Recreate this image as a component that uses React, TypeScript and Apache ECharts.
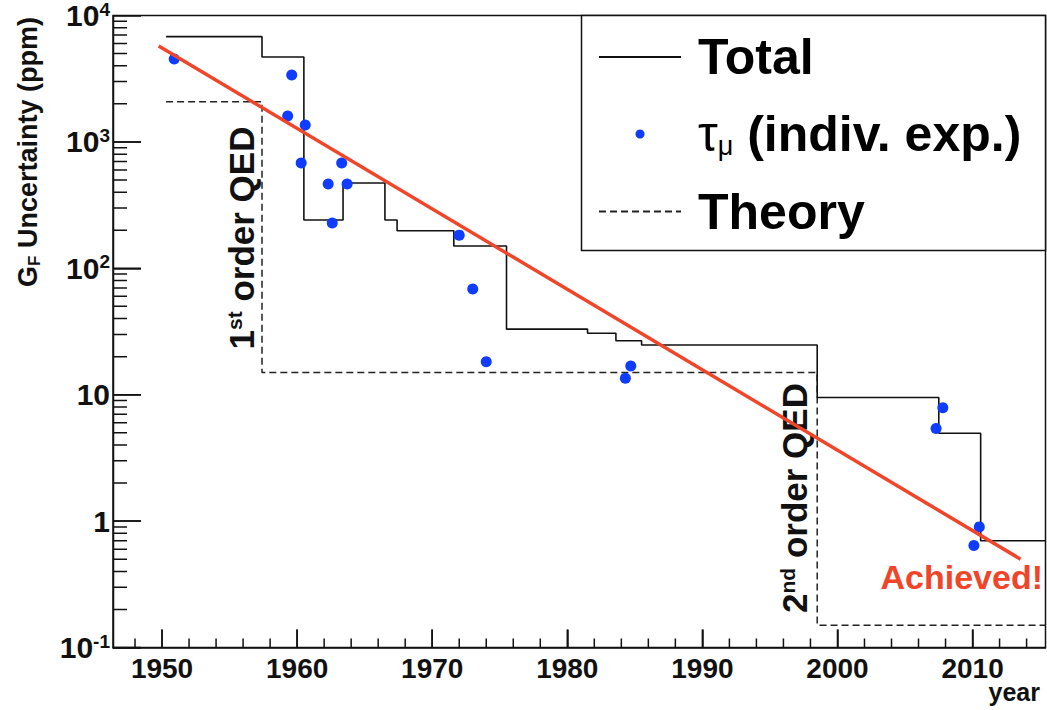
import React, { useEffect, useRef } from "react";
import * as echarts from "echarts";

// ---- data ----
const totalYears = [1950.3, 1957.4, 1960.5, 1963.4, 1966.5, 1967.4, 1971.6, 1975.5, 1981.5, 1983.6, 1985.5, 1998.5, 2007.5, 2010.6, 2015.4];
const totalValues = [6800, 4700, 241, 473, 241, 198, 150, 33, 30.6, 26.7, 24.7, 9.5, 4.95, 0.7, 0.7];

const theoryYears = [1950.3, 1957.4, 1998.5, 2015.4];
const theoryValues = [2080, 15, 0.15, 0.15];

const tauYears = [1950.9, 1959.6, 1959.3, 1960.6, 1960.3, 1963.3, 1962.3, 1963.7, 1962.6, 1972.0, 1973.0, 1974.0, 1984.7, 1984.3, 2007.8, 2007.3, 2010.5, 2010.1];
const tauValues = [4530, 3380, 1600, 1360, 681, 681, 464, 464, 228, 183, 68.6, 18.2, 16.9, 13.5, 7.9, 5.4, 0.9, 0.64];

const fitYears = [1949.75, 2013.55];
const fitValues = [5740, 0.5];

const X_MIN = 1946.37;
const X_MAX = 2015.4;
const Y_MIN = 0.1;
const Y_MAX = 10000;

// plot area (pixels)
const G_LEFT = 113;
const G_TOP = 15.5;
const G_RIGHT = 1.5;
const G_BOTTOM = 62.5;
const PX_PER_YEAR = (1047 - G_RIGHT - G_LEFT) / (X_MAX - X_MIN);
const PX_PER_DECADE = (710 - G_BOTTOM - G_TOP) / Math.log10(Y_MAX / Y_MIN);

const TAU_NAME = "τμ (indiv. exp.)";
const FONT = "'Liberation Sans', Arial, Helvetica, sans-serif";
const RED = "#f1452a";
const BLUE = "#0f3cff";

// tick positions (axis furniture): [value, length in px]
const yTicks: number[][] = [];
for (let e = -1; e <= 3; e++) for (let m = 1; m <= 9; m++) yTicks.push([m * Math.pow(10, e), m === 1 ? 28 : 14]);
const xTicks: number[][] = [];
for (let y = 1948; y <= 2014; y += 2) xTicks.push([y, y % 10 === 0 ? 18 : 9]);

const yTickSegments: any[] = [];
yTicks.forEach((t) => {
  yTickSegments.push([X_MIN, t[0]], [X_MIN + t[1] / PX_PER_YEAR, t[0]], ["-", "-"]);
});
const xTickSegments: any[] = [];
xTicks.forEach((t) => {
  xTickSegments.push([t[0], Y_MIN], [t[0], Y_MIN * Math.pow(10, t[1] / PX_PER_DECADE)], ["-", "-"]);
});

const zip = (a: number[], b: number[]) => a.map((v, i) => [v, b[i]]);

export default function App() {
  const ref = useRef<HTMLDivElement>(null);
  useEffect(() => {
    if (!ref.current) return;
    const chart = echarts.init(ref.current, null, { renderer: "svg" });
    const option: any = {
      animation: false,
      backgroundColor: "#fff",
      textStyle: { fontFamily: FONT },
      grid: {
        left: G_LEFT,
        top: G_TOP,
        right: G_RIGHT,
        bottom: G_BOTTOM,
        show: false,
        containLabel: false,
        outerBoundsMode: "none",
      },
      xAxis: {
        type: "value",
        min: X_MIN,
        max: X_MAX,
        splitNumber: 7,
        axisLine: { show: true, onZero: false, lineStyle: { color: "#111", width: 1.5 } },
        axisTick: { show: true, inside: true, length: 18, lineStyle: { color: "#111", width: 1.5 } },
        splitLine: { show: false },
        axisLabel: {
          show: true,
          fontFamily: FONT,
          fontSize: 28,
          fontWeight: "bold",
          color: "#111",
          margin: 7,
          showMinLabel: false,
          showMaxLabel: false,
          formatter: (v: number) => (Math.abs(v - Math.round(v / 10) * 10) < 1e-6 ? String(Math.round(v)) : ""),
        },
      },
      yAxis: {
        type: "log",
        logBase: 10,
        min: Y_MIN,
        max: Y_MAX,
        splitNumber: 5,
        axisLine: { show: true, onZero: false, lineStyle: { color: "#111", width: 1.5 } },
        axisTick: { show: true, inside: true, length: 28, lineStyle: { color: "#111", width: 1.5 } },
        splitLine: { show: false },
        axisLabel: {
          show: true,
          margin: 3,
          color: "#111",
          formatter: (v: number) => {
            const e = Math.round(Math.log10(v));
            if (e === 0) return "{b|1}";
            if (e === 1) return "{b|10}";
            return "{b|10}{s|" + e + "}";
          },
          rich: {
            b: { fontFamily: FONT, fontSize: 30, fontWeight: "bold", color: "#111" },
            s: { fontFamily: FONT, fontSize: 19, fontWeight: "bold", color: "#111", padding: [0, 0, 13, 0] },
          },
        },
      },
      legend: {
        data: [
          { name: "Total", itemStyle: { color: "rgba(0,0,0,0)", borderWidth: 0 } },
          { name: TAU_NAME },
          { name: "Theory", itemStyle: { color: "rgba(0,0,0,0)", borderWidth: 0 } },
        ],
        orient: "vertical",
        left: 598,
        top: 32,
        padding: 0,
        itemGap: 27,
        itemWidth: 82,
        itemHeight: 9,
        z: 6,
        selectedMode: false,
        formatter: (name: string) =>
          name === TAU_NAME ? "{t|τ}{m|μ}{a| (indiv. exp.)}" : "{a|" + name + "}",
        textStyle: {
          padding: [0, 0, 0, 12],
          rich: {
            a: { fontFamily: FONT, fontSize: 50, fontWeight: "bold", color: "#000" },
            t: { fontFamily: FONT, fontSize: 50, fontWeight: "normal", color: "#000" },
            m: { fontFamily: FONT, fontSize: 27, fontWeight: "normal", color: "#000", padding: [24, 0, 0, 0] },
          },
        },
      },
      graphic: [
        {
          type: "rect",
          z: 1,
          silent: true,
          shape: { x: 113.5, y: 15.5, width: 932, height: 632 },
          style: { fill: "none", stroke: "#111", lineWidth: 1.5 },
        },
        {
          type: "rect",
          z: 3,
          shape: { x: 581.5, y: 15.5, width: 464, height: 235 },
          style: { fill: "#fff", stroke: "#111", lineWidth: 1.5 },
        },
        {
          type: "text",
          x: 28,
          y: 17,
          rotation: Math.PI / 2,
          style: {
            text: "{g|G}{f|F}{u| Uncertainty (ppm)}",
            align: "right",
            verticalAlign: "middle",
            rich: {
              g: { fontFamily: FONT, fontSize: 27, fontWeight: "bold", fill: "#111" },
              f: { fontFamily: FONT, fontSize: 17, fontWeight: "bold", fill: "#111", padding: [13, 0, 0, 0] },
              u: { fontFamily: FONT, fontSize: 27, fontWeight: "bold", fill: "#111" },
            },
          },
        },
        {
          type: "text",
          x: 241,
          y: 238,
          rotation: Math.PI / 2,
          style: {
            text: "{n|1}{s|st}{n| order QED}",
            align: "center",
            verticalAlign: "middle",
            rich: {
              n: { fontFamily: FONT, fontSize: 35, fontWeight: "bold", fill: "#111" },
              s: { fontFamily: FONT, fontSize: 21, fontWeight: "bold", fill: "#111", padding: [0, 0, 14, 0] },
            },
          },
        },
        {
          type: "text",
          x: 794,
          y: 498,
          rotation: Math.PI / 2,
          style: {
            text: "{n|2}{s|nd}{n| order QED}",
            align: "center",
            verticalAlign: "middle",
            rich: {
              n: { fontFamily: FONT, fontSize: 35, fontWeight: "bold", fill: "#111" },
              s: { fontFamily: FONT, fontSize: 21, fontWeight: "bold", fill: "#111", padding: [0, 0, 14, 0] },
            },
          },
        },
        {
          type: "text",
          x: 1043,
          y: 577,
          style: {
            text: "Achieved!",
            align: "right",
            verticalAlign: "middle",
            fontFamily: FONT,
            fontSize: 34,
            fontWeight: "bold",
            fill: RED,
          },
        },
        {
          type: "text",
          x: 1040,
          y: 692,
          style: {
            text: "year",
            align: "right",
            verticalAlign: "middle",
            fontFamily: FONT,
            fontSize: 25,
            fontWeight: "bold",
            fill: "#111",
          },
        },
      ],
      series: [
        {
          name: "Theory",
          type: "line",
          step: "end",
          symbol: "none",
          data: zip(theoryYears, theoryValues),
          lineStyle: { color: "#222", width: 1.5, type: [7, 4] },
          itemStyle: { color: "#222" },
          z: 2,
        },
        {
          name: "Total",
          type: "line",
          step: "end",
          symbol: "none",
          data: zip(totalYears, totalValues),
          lineStyle: { color: "#111", width: 1.6 },
          itemStyle: { color: "#111" },
          z: 2,
        },
        {
          name: TAU_NAME,
          type: "scatter",
          symbol: "circle",
          symbolSize: 11,
          data: zip(tauYears, tauValues),
          itemStyle: { color: BLUE, opacity: 1 },
          z: 3,
        },
        {
          name: "fit",
          type: "line",
          symbol: "none",
          data: zip(fitYears, fitValues),
          lineStyle: { color: RED, width: 3.5 },
          itemStyle: { color: RED },
          z: 4,
        },
        {
          name: "yTickMarks",
          type: "line",
          symbol: "none",
          connectNulls: false,
          clip: false,
          data: yTickSegments,
          lineStyle: { color: "#111", width: 1.5 },
          itemStyle: { color: "#111" },
          z: 5,
        },
        {
          name: "xTickMarks",
          type: "line",
          symbol: "none",
          connectNulls: false,
          clip: false,
          data: xTickSegments,
          lineStyle: { color: "#111", width: 1.5 },
          itemStyle: { color: "#111" },
          z: 5,
        },
      ],
    };
    chart.setOption(option);
    return () => chart.dispose();
  }, []);
  return (
    <div
      ref={ref}
      style={{ position: "absolute", left: 0, top: 0, width: 1047, height: 710, background: "#fff" }}
    />
  );
}
